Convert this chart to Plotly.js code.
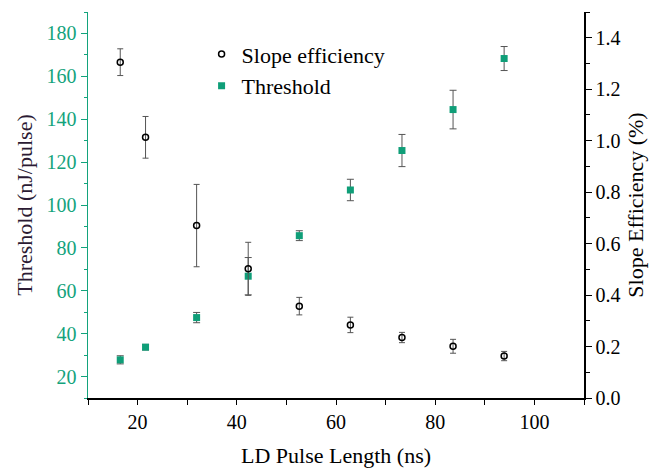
<!DOCTYPE html>
<html>
<head>
<meta charset="utf-8">
<script src="https://cdn.plot.ly/plotly-3.0.1.min.js"></script>
<style>
html,body{margin:0;padding:0;background:#fff;}
#chart{width:655px;height:468px;}
#chart text{font-family:"Liberation Serif","Times New Roman",serif !important;}
</style>
</head>
<body>
<div id="chart"></div>
<script>
const pulseLength = [16.5, 21.6, 31.9, 42.3, 52.6, 62.9, 73.3, 83.6, 93.9];
const slopeEff = [1.305, 1.013, 0.670, 0.502, 0.357, 0.284, 0.235, 0.201, 0.163];
const slopeErr = [0.052, 0.081, 0.160, 0.103, 0.034, 0.030, 0.020, 0.027, 0.018];
const threshold = [27.8, 33.7, 47.5, 66.8, 85.7, 107.0, 125.4, 144.5, 168.3];
const thresholdErr = [1.9, 1.3, 2.4, 8.7, 2.3, 5.0, 7.5, 9.0, 5.6];

const green = '#13a37c';
const serif = 'Liberation Serif';

const traces = [
  {
    x: pulseLength, y: slopeEff, yaxis: 'y2', name: 'Slope efficiency',
    type: 'scatter', mode: 'markers',
    marker: {symbol: 'circle-open', size: 6, color: '#000', line: {width: 1.5, color: '#000'}},
    error_y: {type: 'data', array: slopeErr, visible: true, color: '#555', thickness: 1, width: 3}
  },
  {
    x: pulseLength, y: threshold, yaxis: 'y', name: 'Threshold',
    type: 'scatter', mode: 'markers',
    marker: {symbol: 'square', size: 7, color: '#0f9e78'},
    error_y: {type: 'data', array: thresholdErr, visible: true, color: '#555', thickness: 1, width: 3.5}
  }
];

const layout = {
  width: 655, height: 468,
  margin: {l: 88, r: 71, t: 12, b: 70},
  paper_bgcolor: '#fff', plot_bgcolor: '#fff',
  font: {family: serif, size: 20, color: '#000'},
  showlegend: true,
  legend: {x: 0.229, y: 0.945, xanchor: 'left', yanchor: 'top', bgcolor: 'rgba(0,0,0,0)',
           font: {family: serif, size: 22, color: '#000'}, tracegroupgap: 0, traceorder: 'normal'},
  xaxis: {
    range: [10, 110], tick0: 20, dtick: 20, showgrid: false, zeroline: false,
    showline: true, linecolor: '#000', linewidth: 1.5,
    ticks: 'outside', ticklen: 5, tickwidth: 1, tickcolor: '#000',
    minor: {dtick: 10, tick0: 10, ticks: 'outside', ticklen: 5, tickcolor: '#000', showgrid: false},
    tickfont: {family: serif, size: 20, color: '#000'},
    title: {text: 'LD Pulse Length (ns)', font: {family: serif, size: 22, color: '#000'}, standoff: 19}
  },
  yaxis: {
    range: [10, 190], tick0: 20, dtick: 20, showgrid: false, zeroline: false,
    showline: true, linecolor: green, linewidth: 1.5,
    ticks: 'outside', ticklen: 6, tickwidth: 1, tickcolor: green,
    minor: {dtick: 10, tick0: 10, ticks: 'outside', ticklen: 3, tickcolor: green, showgrid: false},
    tickfont: {family: serif, size: 20, color: green},
    title: {text: 'Threshold (nJ/pulse)', font: {family: serif, size: 22, color: '#2b1a33'}, standoff: 8}
  },
  yaxis2: {
    range: [0, 1.5], tick0: 0, dtick: 0.2, overlaying: 'y', side: 'right',
    showgrid: false, zeroline: false, tickformat: '.1f',
    showline: true, linecolor: '#000', linewidth: 1.5,
    ticks: 'outside', ticklen: 6, tickwidth: 1, tickcolor: '#000',
    minor: {dtick: 0.1, tick0: 0, ticks: 'outside', ticklen: 4, tickcolor: '#000', showgrid: false},
    tickfont: {family: serif, size: 20, color: '#000'},
    title: {text: 'Slope Efficiency (%)', font: {family: serif, size: 22, color: '#000'}, standoff: 8}
  }
};

Plotly.newPlot('chart', traces, layout, {displayModeBar: false, staticPlot: true});
</script>
</body>
</html>
